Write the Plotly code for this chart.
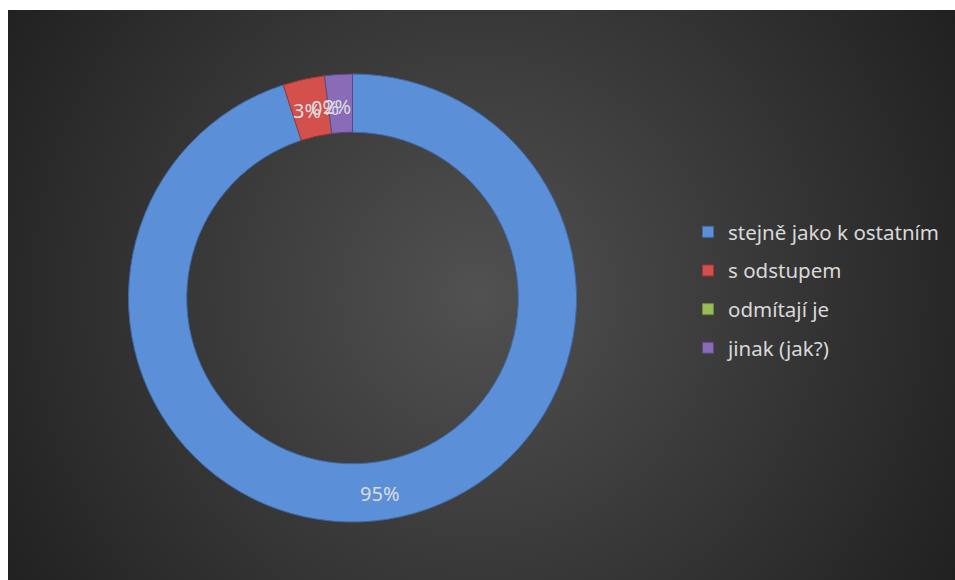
import base64
import math
import plotly.graph_objects as go

categories = ["stejně jako k ostatním", "s odstupem", "odmítají je", "jinak (jak?)"]
values = [95, 3, 0, 2]
colors = ["#5b8fd8", "#d4504c", "#9bbb59", "#8a6bb8"]
edge_colors = ["#3f6aa8", "#9e3532", "#6f8a3c", "#5e4682"]

W, H = 955, 580
hole = 0.74

# pie domain (figure pixels -> paper)
px0, px1 = 128, 577
py0, py1 = 74, 522
dom_x = [px0 / W, px1 / W]
dom_y = [1 - py1 / H, 1 - py0 / H]

BGX, BGY = 8, 10  # chart area starts here (white frame to the left/top)
bw, bh = W - BGX, H - BGY
svg = (
    f'<svg xmlns="http://www.w3.org/2000/svg" width="{bw}" height="{bh}">'
    '<defs><radialGradient id="g" gradientUnits="userSpaceOnUse" cx="470" cy="285" r="560">'
    '<stop offset="0" stop-color="#515151"/><stop offset="1" stop-color="#202020"/>'
    f'</radialGradient></defs><rect width="{bw}" height="{bh}" fill="url(#g)"/></svg>'
)
bg_src = "data:image/svg+xml;base64," + base64.b64encode(svg.encode()).decode()

fig = go.Figure()
fig.add_trace(go.Pie(
    labels=categories,
    values=values,
    hole=hole,
    sort=False,
    direction="clockwise",
    rotation=0,
    marker=dict(colors=colors, line=dict(color=edge_colors, width=1)),
    textinfo="none",
    hoverinfo="label+percent",
    showlegend=False,
    domain=dict(x=dom_x, y=dom_y),
))

# legend entries
for i, (cat, col) in enumerate(zip(categories, colors)):
    fig.add_trace(go.Scatter(
        x=[None], y=[None], mode="markers", name=cat,
        marker=dict(symbol="square", size=11, color=col, line=dict(color=edge_colors[i], width=1)),
        legendgroup=f"g{i}", showlegend=True,
    ))

# percent labels placed at ring middle, computed from data
total = sum(values)
cx = (px0 + px1) / 2
cy = (py0 + py1) / 2
R = min(px1 - px0, py1 - py0) / 2
rmid = R * (1 + hole) / 2
annotations = []
cum = 0.0
for v in values:
    frac = v / total
    mid = cum + frac / 2
    a = mid * 2 * math.pi
    xp = cx + rmid * math.sin(a)
    yp = cy - rmid * math.cos(a)
    annotations.append(dict(
        x=xp / W, y=1 - yp / H, xref="paper", yref="paper",
        text=f"{round(frac * 100)}%", showarrow=False,
        font=dict(family="Noto Sans", size=20, color="#dcdcdc"),
        xanchor="center", yanchor="middle", yshift=-3, xshift=-3,
    ))
    cum += frac

fig.update_layout(
    width=W, height=H,
    margin=dict(l=0, r=0, t=0, b=0),
    paper_bgcolor="white",
    plot_bgcolor="rgba(0,0,0,0)",
    xaxis=dict(visible=False),
    yaxis=dict(visible=False),
    images=[dict(
        source=bg_src, xref="paper", yref="paper",
        x=BGX / W, y=1 - BGY / H, sizex=bw / W, sizey=bh / H,
        xanchor="left", yanchor="top", sizing="stretch", layer="below",
    )],
    legend=dict(
        x=688 / W, y=1 - 290 / H, xanchor="left", yanchor="middle",
        font=dict(family="Noto Sans", size=20.5, color="#d9d9d9"),
        bgcolor="rgba(0,0,0,0)",
        tracegroupgap=9,
        itemclick=False, itemdoubleclick=False,
    ),
    annotations=annotations,
)

fig.write_html(
    "out.html",
    config={"displayModeBar": False},
    post_script="document.body.style.margin='0';",
)
